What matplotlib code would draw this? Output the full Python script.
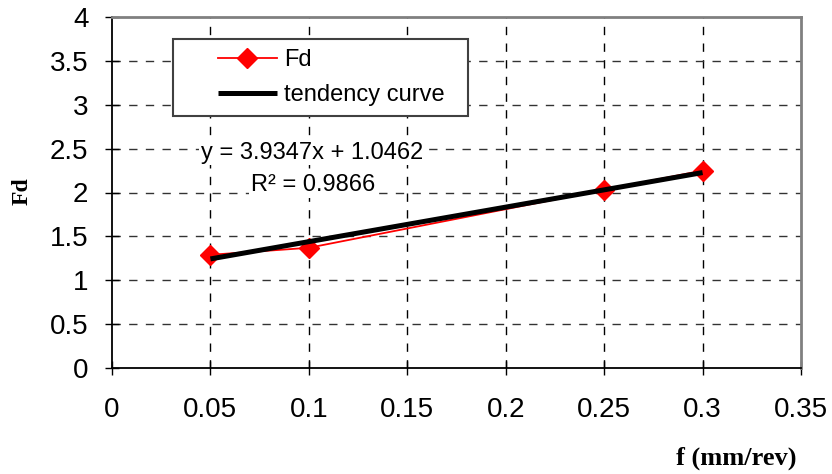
import matplotlib
matplotlib.use("Agg")
import matplotlib.pyplot as plt
from matplotlib.patches import Rectangle

plt.rcParams['font.family'] = ['Liberation Sans', 'DejaVu Sans']

# Data
f_vals = [0.05, 0.10, 0.25, 0.30]
fd_vals = [1.29, 1.37, 2.03, 2.25]
trend_x = [0.05, 0.30]
trend_y = [1.243, 2.227]
x_ticks = [0, 0.05, 0.1, 0.15, 0.2, 0.25, 0.3, 0.35]
x_ticklabels = ['0', '0.05', '0.1', '0.15', '0.2', '0.25', '0.3', '0.35']
y_ticks = [0, 0.5, 1, 1.5, 2, 2.5, 3, 3.5, 4]
y_ticklabels = ['0', '0.5', '1', '1.5', '2', '2.5', '3', '3.5', '4']
equation_text = "y = 3.9347x + 1.0462"
r2_text = "R\u00b2 = 0.9866"

fig = plt.figure(figsize=(8.32, 4.74), dpi=100)
ax = fig.add_axes([112/832, 106/474, 689/832, 351/474])

ax.set_xlim(0, 0.35)
ax.set_ylim(0, 4)
ax.set_xticks(x_ticks)
ax.set_xticklabels(x_ticklabels)
ax.set_yticks(y_ticks)
ax.set_yticklabels(y_ticklabels)

# dashed gridlines on interior ticks
for xv in x_ticks[1:-1]:
    ax.axvline(xv, color='black', lw=1.0, ls=(0, (6, 6)), zorder=1)
for yv in y_ticks[1:-1]:
    ax.axhline(yv, color='#333333', lw=1.0, ls=(0, (6, 6)), zorder=1)

ax.plot(f_vals, fd_vals, color='red', lw=1.3, marker='D', ms=10,
        markerfacecolor='red', markeredgecolor='red', label='Fd', zorder=3)
ax.plot(trend_x, trend_y, color='black', lw=3.6, solid_capstyle='butt',
        label='tendency curve', zorder=4)

# spines
for s in ['left', 'bottom']:
    ax.spines[s].set_color('black')
    ax.spines[s].set_linewidth(1.3)
for s in ['top', 'right']:
    ax.spines[s].set_color('#808080')
    ax.spines[s].set_linewidth(2.0)

ax.tick_params(axis='both', direction='inout', length=10, width=1.0,
               labelsize=20, colors='black')
ax.tick_params(axis='x', pad=16)
ax.tick_params(axis='y', pad=12)

# legend frame and legend
ax.add_patch(Rectangle((0.0885, 0.718), 0.428, 0.219, transform=ax.transAxes,
                       facecolor='white', edgecolor='#404040', lw=1.5,
                       zorder=6, clip_on=False))
leg = ax.legend(loc='upper left', bbox_to_anchor=(0.1538, 0.908),
                frameon=False, fontsize=17, handlelength=2.5,
                handletextpad=0.3, labelspacing=0.55, borderpad=0,
                borderaxespad=0)
leg.set_zorder(7)

ax.text(0.1016, 2.45, equation_text, ha='center', va='center', fontsize=17,
        bbox=dict(facecolor='white', edgecolor='none', pad=1), zorder=5)
ax.text(0.1020, 2.08, r2_text, ha='center', va='center', fontsize=17,
        bbox=dict(facecolor='white', edgecolor='none', pad=1), zorder=5)

fig.text(22/832, 1 - 191/474, 'Fd', rotation=90, ha='center', va='center',
         fontsize=17, fontweight='bold', family=['Liberation Serif'])
fig.text(736/832, 1 - 458/474, 'f (mm/rev)', ha='center', va='center',
         fontsize=19, fontweight='bold', family=['Liberation Serif'])

fig.savefig('out.png', dpi=100)
